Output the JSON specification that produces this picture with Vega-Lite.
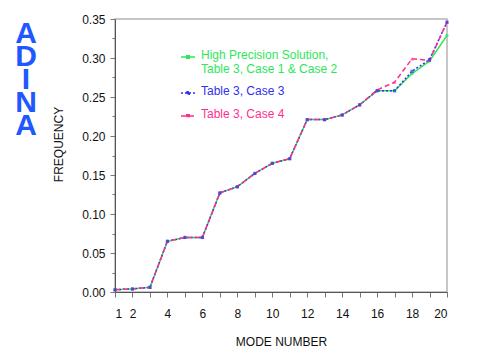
{
  "$schema": "https://vega.github.io/schema/vega-lite/v6.json",
  "width": 332,
  "height": 273,
  "autosize": "none",
  "padding": {"left": 115, "top": 19, "right": 50, "bottom": 67},
  "background": "white",
  "config": {
    "view": {"stroke": "#b4b4b4", "strokeWidth": 1.5},
    "font": "Liberation Sans"
  },
  "title": {
    "text": ["A", "D", "I", "N", "A"],
    "orient": "left",
    "angle": 0,
    "anchor": "end",
    "frame": "group",
    "fontSize": 30,
    "fontWeight": "bold",
    "font": "Liberation Sans",
    "color": "#2157ff",
    "lineHeight": 23,
    "align": "center",
    "baseline": "top",
    "offset": 5
  },
  "data": {
    "values": [
      {"mode": 1, "f": 0.003, "s": "High Precision Solution, Table 3, Case 1 & Case 2"},
      {"mode": 2, "f": 0.004, "s": "High Precision Solution, Table 3, Case 1 & Case 2"},
      {"mode": 3, "f": 0.006, "s": "High Precision Solution, Table 3, Case 1 & Case 2"},
      {"mode": 4, "f": 0.065, "s": "High Precision Solution, Table 3, Case 1 & Case 2"},
      {"mode": 5, "f": 0.070, "s": "High Precision Solution, Table 3, Case 1 & Case 2"},
      {"mode": 6, "f": 0.070, "s": "High Precision Solution, Table 3, Case 1 & Case 2"},
      {"mode": 7, "f": 0.127, "s": "High Precision Solution, Table 3, Case 1 & Case 2"},
      {"mode": 8, "f": 0.135, "s": "High Precision Solution, Table 3, Case 1 & Case 2"},
      {"mode": 9, "f": 0.152, "s": "High Precision Solution, Table 3, Case 1 & Case 2"},
      {"mode": 10, "f": 0.165, "s": "High Precision Solution, Table 3, Case 1 & Case 2"},
      {"mode": 11, "f": 0.171, "s": "High Precision Solution, Table 3, Case 1 & Case 2"},
      {"mode": 12, "f": 0.221, "s": "High Precision Solution, Table 3, Case 1 & Case 2"},
      {"mode": 13, "f": 0.221, "s": "High Precision Solution, Table 3, Case 1 & Case 2"},
      {"mode": 14, "f": 0.227, "s": "High Precision Solution, Table 3, Case 1 & Case 2"},
      {"mode": 15, "f": 0.240, "s": "High Precision Solution, Table 3, Case 1 & Case 2"},
      {"mode": 16, "f": 0.258, "s": "High Precision Solution, Table 3, Case 1 & Case 2"},
      {"mode": 17, "f": 0.258, "s": "High Precision Solution, Table 3, Case 1 & Case 2"},
      {"mode": 18, "f": 0.280, "s": "High Precision Solution, Table 3, Case 1 & Case 2"},
      {"mode": 19, "f": 0.296, "s": "High Precision Solution, Table 3, Case 1 & Case 2"},
      {"mode": 20, "f": 0.329, "s": "High Precision Solution, Table 3, Case 1 & Case 2"},
      {"mode": 1, "f": 0.003, "s": "Table 3, Case 3"},
      {"mode": 2, "f": 0.004, "s": "Table 3, Case 3"},
      {"mode": 3, "f": 0.006, "s": "Table 3, Case 3"},
      {"mode": 4, "f": 0.065, "s": "Table 3, Case 3"},
      {"mode": 5, "f": 0.070, "s": "Table 3, Case 3"},
      {"mode": 6, "f": 0.070, "s": "Table 3, Case 3"},
      {"mode": 7, "f": 0.127, "s": "Table 3, Case 3"},
      {"mode": 8, "f": 0.135, "s": "Table 3, Case 3"},
      {"mode": 9, "f": 0.152, "s": "Table 3, Case 3"},
      {"mode": 10, "f": 0.165, "s": "Table 3, Case 3"},
      {"mode": 11, "f": 0.171, "s": "Table 3, Case 3"},
      {"mode": 12, "f": 0.221, "s": "Table 3, Case 3"},
      {"mode": 13, "f": 0.221, "s": "Table 3, Case 3"},
      {"mode": 14, "f": 0.227, "s": "Table 3, Case 3"},
      {"mode": 15, "f": 0.240, "s": "Table 3, Case 3"},
      {"mode": 16, "f": 0.258, "s": "Table 3, Case 3"},
      {"mode": 17, "f": 0.258, "s": "Table 3, Case 3"},
      {"mode": 18, "f": 0.283, "s": "Table 3, Case 3"},
      {"mode": 19, "f": 0.298, "s": "Table 3, Case 3"},
      {"mode": 20, "f": 0.346, "s": "Table 3, Case 3"},
      {"mode": 1, "f": 0.003, "s": "Table 3, Case 4"},
      {"mode": 2, "f": 0.004, "s": "Table 3, Case 4"},
      {"mode": 3, "f": 0.006, "s": "Table 3, Case 4"},
      {"mode": 4, "f": 0.065, "s": "Table 3, Case 4"},
      {"mode": 5, "f": 0.070, "s": "Table 3, Case 4"},
      {"mode": 6, "f": 0.070, "s": "Table 3, Case 4"},
      {"mode": 7, "f": 0.127, "s": "Table 3, Case 4"},
      {"mode": 8, "f": 0.135, "s": "Table 3, Case 4"},
      {"mode": 9, "f": 0.152, "s": "Table 3, Case 4"},
      {"mode": 10, "f": 0.165, "s": "Table 3, Case 4"},
      {"mode": 11, "f": 0.171, "s": "Table 3, Case 4"},
      {"mode": 12, "f": 0.221, "s": "Table 3, Case 4"},
      {"mode": 13, "f": 0.221, "s": "Table 3, Case 4"},
      {"mode": 14, "f": 0.227, "s": "Table 3, Case 4"},
      {"mode": 15, "f": 0.240, "s": "Table 3, Case 4"},
      {"mode": 16, "f": 0.259, "s": "Table 3, Case 4"},
      {"mode": 17, "f": 0.269, "s": "Table 3, Case 4"},
      {"mode": 18, "f": 0.299, "s": "Table 3, Case 4"},
      {"mode": 19, "f": 0.297, "s": "Table 3, Case 4"},
      {"mode": 20, "f": 0.346, "s": "Table 3, Case 4"}
    ]
  },
  "encoding": {
    "x": {
      "field": "mode",
      "type": "quantitative",
      "scale": {"domain": [1, 20], "nice": false, "zero": false},
      "axis": {
        "title": "MODE NUMBER",
        "values": [1,2,3,4,5,6,7,8,9,10,11,12,13,14,15,16,17,18,19,20],
        "labelExpr": "datum.value == 1 || datum.value % 2 == 0 ? datum.label : ''",
        "grid": false,
        "domainColor": "#555555",
        "tickColor": "#777777",
        "tickSize": 5,
        "labelPadding": 11,
        "labelFontSize": 12,
        "labelColor": "#111111",
        "titleFontSize": 12,
        "titleFontWeight": "normal",
        "titleColor": "#111111",
        "titlePadding": 17
      }
    },
    "y": {
      "field": "f",
      "type": "quantitative",
      "scale": {"domain": [0, 0.35], "nice": false},
      "axis": {
        "title": "FREQUENCY",
        "values": [0, 0.025, 0.05, 0.075, 0.1, 0.125, 0.15, 0.175, 0.2, 0.225, 0.25, 0.275, 0.3, 0.325, 0.35],
        "format": ".2f",
        "labelExpr": "abs(datum.value * 20 - round(datum.value * 20)) < 0.001 ? datum.label : ''",
        "tickSize": {"condition": {"test": "abs(datum.value * 20 - round(datum.value * 20)) < 0.001", "value": 5}, "value": 3},
        "grid": false,
        "domainColor": "#555555",
        "tickColor": "#777777",
        "labelPadding": 5,
        "labelFontSize": 12,
        "labelColor": "#111111",
        "titleFontSize": 12,
        "titleFontWeight": "normal",
        "titleColor": "#111111",
        "titlePadding": 16,
        "titleY": 125
      }
    }
  },
  "layer": [
    {
      "mark": {"type": "line", "strokeWidth": 1.5},
      "encoding": {
        "color": {
          "field": "s",
          "type": "nominal",
          "scale": {
            "domain": ["High Precision Solution, Table 3, Case 1 & Case 2", "Table 3, Case 3", "Table 3, Case 4"],
            "range": ["#2ee65a", "#3030f0", "#ff2f92"]
          },
          "legend": {
            "title": null,
            "orient": "none",
            "legendX": 65,
            "legendY": 30,
            "padding": 0,
            "rowPadding": 10,
            "symbolType": "M-1,0L1,0M-0.18,-0.18L0.18,-0.18L0.18,0.18L-0.18,0.18Z",
            "symbolSize": 196,
            "symbolStrokeWidth": 1.5,
            "labelFontSize": 12,
            "labelOffset": 5,
            "labelLimit": 300,
            "labelBaseline": "top",
            "labelExpr": "datum.value == 'High Precision Solution, Table 3, Case 1 & Case 2' ? ['High Precision Solution,', 'Table 3, Case 1 & Case 2'] : datum.label",
            "encode": {
              "labels": {"update": {"fill": {"scale": "color", "field": "value"}, "dy": {"value": -7}}},
              "symbols": {"update": {"fill": {"scale": "color", "field": "value"}}}
            }
          }
        },
        "strokeDash": {
          "field": "s",
          "type": "nominal",
          "scale": {
            "domain": ["High Precision Solution, Table 3, Case 1 & Case 2", "Table 3, Case 3", "Table 3, Case 4"],
            "range": [[1, 0], [2, 2], [5, 3]]
          }
        }
      }
    },
    {
      "transform": [{"filter": "datum.s == 'High Precision Solution, Table 3, Case 1 & Case 2'"}],
      "mark": {"type": "point", "filled": true, "size": 12, "shape": "circle", "color": "#2ee65a"}
    },
    {
      "transform": [{"filter": "datum.s == 'Table 3, Case 4'"}],
      "mark": {"type": "point", "filled": true, "size": 14, "shape": "triangle-up", "color": "#ff2f92"}
    },
    {
      "transform": [{"filter": "datum.s == 'Table 3, Case 3'"}],
      "mark": {"type": "point", "filled": true, "size": 10, "shape": "square", "color": "#3030f0"}
    }
  ]
}
